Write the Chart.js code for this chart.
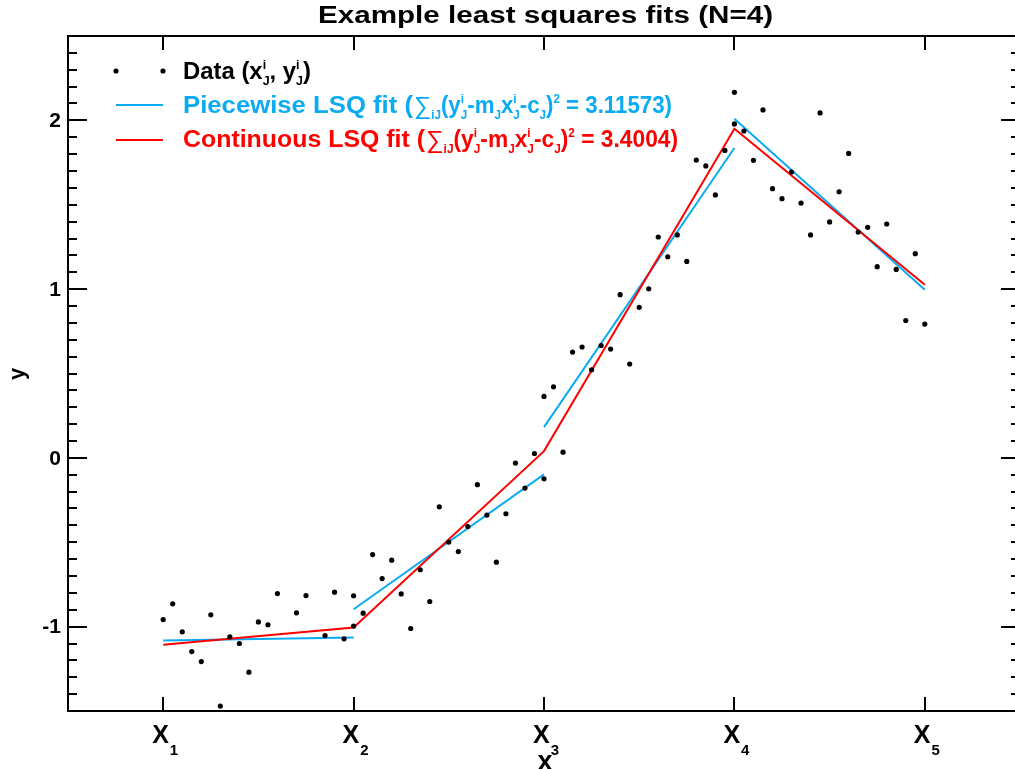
<!DOCTYPE html>
<html>
<head>
<meta charset="utf-8">
<script src="https://cdn.jsdelivr.net/npm/chart.js@4.4.1/dist/chart.umd.min.js"></script>
<style>
    html, body { margin: 0; padding: 0; overflow: hidden; background: #ffffff; }
    #wrap { position: relative; width: 1025px; height: 769px; }
</style>
</head>
<body>
<div id="wrap"><canvas id="fit-chart"></canvas></div>
<script>
// data, x in units of the knots X1..X5
var dataX = [
    1.00, 1.05, 1.10, 1.15, 1.20, 1.25, 1.30, 1.35, 1.40, 1.45, 1.50, 1.55, 1.60, 1.70, 1.75, 1.85, 1.90, 1.95, 2.00,
    2.00, 2.05, 2.10, 2.15, 2.20, 2.25, 2.30, 2.35, 2.40, 2.45, 2.50, 2.55, 2.60, 2.65, 2.70, 2.75, 2.80, 2.85, 2.90, 2.95, 3.00,
    3.00, 3.05, 3.10, 3.15, 3.20, 3.25, 3.30, 3.35, 3.40, 3.45, 3.50, 3.55, 3.60, 3.65, 3.70, 3.75, 3.80, 3.85, 3.90, 3.95, 4.00,
    4.00, 4.05, 4.10, 4.15, 4.20, 4.25, 4.30, 4.35, 4.40, 4.45, 4.50, 4.55, 4.60, 4.65, 4.70, 4.75, 4.80, 4.85, 4.90, 4.95, 5.00
];
var dataY = [
    -0.958, -0.865, -1.031, -1.148, -1.207, -0.930, -1.471, -1.060, -1.100, -1.270, -0.972, -0.989, -0.804, -0.918, -0.816, -1.053, -0.796, -1.072, -0.997,
    -0.817, -0.920, -0.573, -0.715, -0.606, -0.806, -1.011, -0.663, -0.851, -0.290, -0.499, -0.555, -0.407, -0.159, -0.339, -0.618, -0.331, -0.031, -0.179, 0.026, -0.124,
    0.364, 0.421, 0.034, 0.627, 0.657, 0.522, 0.666, 0.645, 0.967, 0.556, 0.892, 1.002, 1.309, 1.192, 1.321, 1.164, 1.765, 1.730, 1.558, 1.822, 1.979,
    2.166, 1.937, 1.763, 2.062, 1.595, 1.536, 1.694, 1.510, 1.321, 2.044, 1.398, 1.577, 1.804, 1.338, 1.366, 1.133, 1.386, 1.117, 0.814, 1.210, 0.793
];

// piecewise fit, one segment per interval
var pieceX0 = [1, 2, 3, 4];
var pieceX1 = [2, 3, 4, 5];
var pieceY0 = [-1.082, -0.897, 0.182, 2.010];
var pieceY1 = [-1.064, -0.098, 1.836, 0.996];

// continuous fit through the knots
var knotX = [1, 2, 3, 4, 5];
var contY = [-1.108, -1.005, 0.040, 1.951, 1.026];

var xTickVals = [1, 2, 3, 4, 5];
var xTickSubs = ["1", "2", "3", "4", "5"];
var yTickVals = [-1, 0, 1, 2];

var pieceChi = "3.11573";
var contChi = "3.4004";

var BLUE = "#0aabf2";
var RED = "#ff0000";
var FONT = '"Liberation Sans", Arial, sans-serif';

var points = [];
for (var i = 0; i < dataX.length; i++) {
    points.push({ x: dataX[i], y: dataY[i] });
}

var pieceData = [];
for (var j = 0; j < pieceX0.length; j++) {
    if (j > 0) pieceData.push({ x: pieceX0[j], y: null });
    pieceData.push({ x: pieceX0[j], y: pieceY0[j] });
    pieceData.push({ x: pieceX1[j], y: pieceY1[j] });
}

var contData = [];
for (var k = 0; k < knotX.length; k++) {
    contData.push({ x: knotX[k], y: contY[k] });
}

// text with little super/subscripts, squeezed or stretched to a given width
function richText(ctx, parts, x, y, size, color, width) {
    var small = Math.round(size * 0.5);
    var pass = function (draw) {
        var cx = 0;
        for (var i = 0; i < parts.length; i++) {
            var p = parts[i];
            if (typeof p === "string") {
                ctx.font = "bold " + size + "px " + FONT;
                if (draw) ctx.fillText(p, cx, 0);
                cx += ctx.measureText(p).width;
            } else if (p.thin) {
                ctx.font = Math.round(size * 1.1) + "px " + FONT;
                if (draw) ctx.fillText(p.thin, cx, 1);
                cx += ctx.measureText(p.thin).width;
            } else {
                ctx.font = "bold " + small + "px " + FONT;
                var w = 0;
                if (p.sup) {
                    if (draw) ctx.fillText(p.sup, cx, -size * 0.44);
                    w = Math.max(w, ctx.measureText(p.sup).width);
                }
                if (p.sub) {
                    if (draw) ctx.fillText(p.sub, cx, size * 0.24);
                    w = Math.max(w, ctx.measureText(p.sub).width);
                }
                cx += w;
            }
        }
        return cx;
    };
    ctx.save();
    var natural = pass(false);
    ctx.translate(x, y);
    ctx.scale(width / natural, 1);
    ctx.fillStyle = color;
    ctx.textAlign = "left";
    ctx.textBaseline = "alphabetic";
    pass(true);
    ctx.restore();
}

var framePlugin = {
    id: "frame",
    afterDraw: function (chart) {
        var ctx = chart.ctx;
        var a = chart.chartArea;
        var xs = chart.scales.x;
        var ys = chart.scales.y;

        ctx.save();
        ctx.strokeStyle = "#000";
        ctx.lineWidth = 2;
        ctx.strokeRect(a.left, a.top, a.right - a.left, a.bottom - a.top);

        // y ticks every 0.1, both sides
        ctx.beginPath();
        for (var i = -15; i <= 25; i++) {
            var py = Math.round(ys.getPixelForValue(i / 10));
            var len = (i % 10 === 0) ? 19 : 9;
            ctx.moveTo(a.left, py);
            ctx.lineTo(a.left + len, py);
            ctx.moveTo(a.right, py);
            ctx.lineTo(a.right - len, py);
        }
        // x ticks at the knots, top and bottom
        for (var n = 0; n < xTickVals.length; n++) {
            var px = Math.round(xs.getPixelForValue(xTickVals[n]));
            ctx.moveTo(px, a.bottom);
            ctx.lineTo(px, a.bottom - 14);
            ctx.moveTo(px, a.top);
            ctx.lineTo(px, a.top + 14);
        }
        ctx.stroke();

        // y tick labels
        ctx.fillStyle = "#000";
        ctx.font = "bold 21px " + FONT;
        ctx.textAlign = "right";
        ctx.textBaseline = "middle";
        for (var m = 0; m < yTickVals.length; m++) {
            ctx.fillText(String(yTickVals[m]), a.left - 7, ys.getPixelForValue(yTickVals[m]) + 1);
        }

        // x tick labels X with subscript
        ctx.textAlign = "left";
        ctx.textBaseline = "alphabetic";
        for (var q = 0; q < xTickVals.length; q++) {
            var cxp = xs.getPixelForValue(xTickVals[q]);
            ctx.font = "bold 25px " + FONT;
            var wX = ctx.measureText("X").width;
            ctx.fillText("X", cxp - 11, 743);
            ctx.font = "bold 15px " + FONT;
            ctx.fillText(xTickSubs[q], cxp - 11 + wX + 1, 755);
        }

        // axis titles
        ctx.font = "bold 27px " + FONT;
        ctx.textAlign = "center";
        ctx.fillText("x", 545, 770);

        ctx.save();
        ctx.translate(18, 374);
        ctx.rotate(-Math.PI / 2);
        ctx.font = "bold 22px " + FONT;
        ctx.textBaseline = "middle";
        ctx.fillText("y", 0, 0);
        ctx.restore();

        // title
        richText(ctx, ["Example least squares fits (N=4)"], 318, 23, 23, "#000", 455);

        // legend
        ctx.fillStyle = "#000";
        ctx.beginPath();
        ctx.arc(116, 71, 2.6, 0, Math.PI * 2);
        ctx.arc(163, 71, 2.6, 0, Math.PI * 2);
        ctx.fill();

        ctx.lineWidth = 2;
        ctx.strokeStyle = BLUE;
        ctx.beginPath();
        ctx.moveTo(116, 105);
        ctx.lineTo(163, 105);
        ctx.stroke();
        ctx.strokeStyle = RED;
        ctx.beginPath();
        ctx.moveTo(116, 140);
        ctx.lineTo(163, 140);
        ctx.stroke();

        var iJ = { sup: "i", sub: "J" };
        var J = { sub: "J" };
        var sumPart = function (chi) {
            return [{ thin: "\u2211" }, { sub: "iJ" }, "(y", iJ, "-m", J, "x", iJ, "-c", J, ")", { sup: "2" }, " = " + chi + ")"];
        };
        richText(ctx, ["Data (x", iJ, ", y", iJ, ")"], 183, 79, 23, "#000", 128);
        richText(ctx, ["Piecewise LSQ fit ("], 183, 113, 23, BLUE, 230);
        richText(ctx, sumPart(pieceChi), 414, 113, 23, BLUE, 258);
        richText(ctx, ["Continuous LSQ fit ("], 183, 147, 23, RED, 242);
        richText(ctx, sumPart(contChi), 426, 147, 23, RED, 252);

        ctx.restore();
    }
};

var ctx = document.getElementById("fit-chart").getContext("2d");

var chart = new Chart(ctx, {
    type: "scatter",
    data: {
        datasets: [
            {
                label: "Data",
                data: points,
                showLine: false,
                pointRadius: 2.6,
                pointBackgroundColor: "#000",
                pointBorderWidth: 0,
                order: 0
            },
            {
                label: "Piecewise LSQ fit",
                data: pieceData,
                showLine: true,
                spanGaps: false,
                borderColor: BLUE,
                borderWidth: 2,
                pointRadius: 0,
                order: 2
            },
            {
                label: "Continuous LSQ fit",
                data: contData,
                showLine: true,
                borderColor: RED,
                borderWidth: 2,
                pointRadius: 0,
                order: 1
            }
        ]
    },
    options: {
        responsive: true,
        maintainAspectRatio: false,
        animation: false,
        layout: { padding: { left: 68, top: 36, right: 5, bottom: 58 } },
        scales: {
            x: { type: "linear", min: 0.5, max: 5.5, display: false },
            y: { type: "linear", min: -1.5, max: 2.5, display: false }
        },
        plugins: {
            legend: { display: false },
            tooltip: { enabled: false }
        }
    },
    plugins: [framePlugin]
});
</script>
</body>
</html>
